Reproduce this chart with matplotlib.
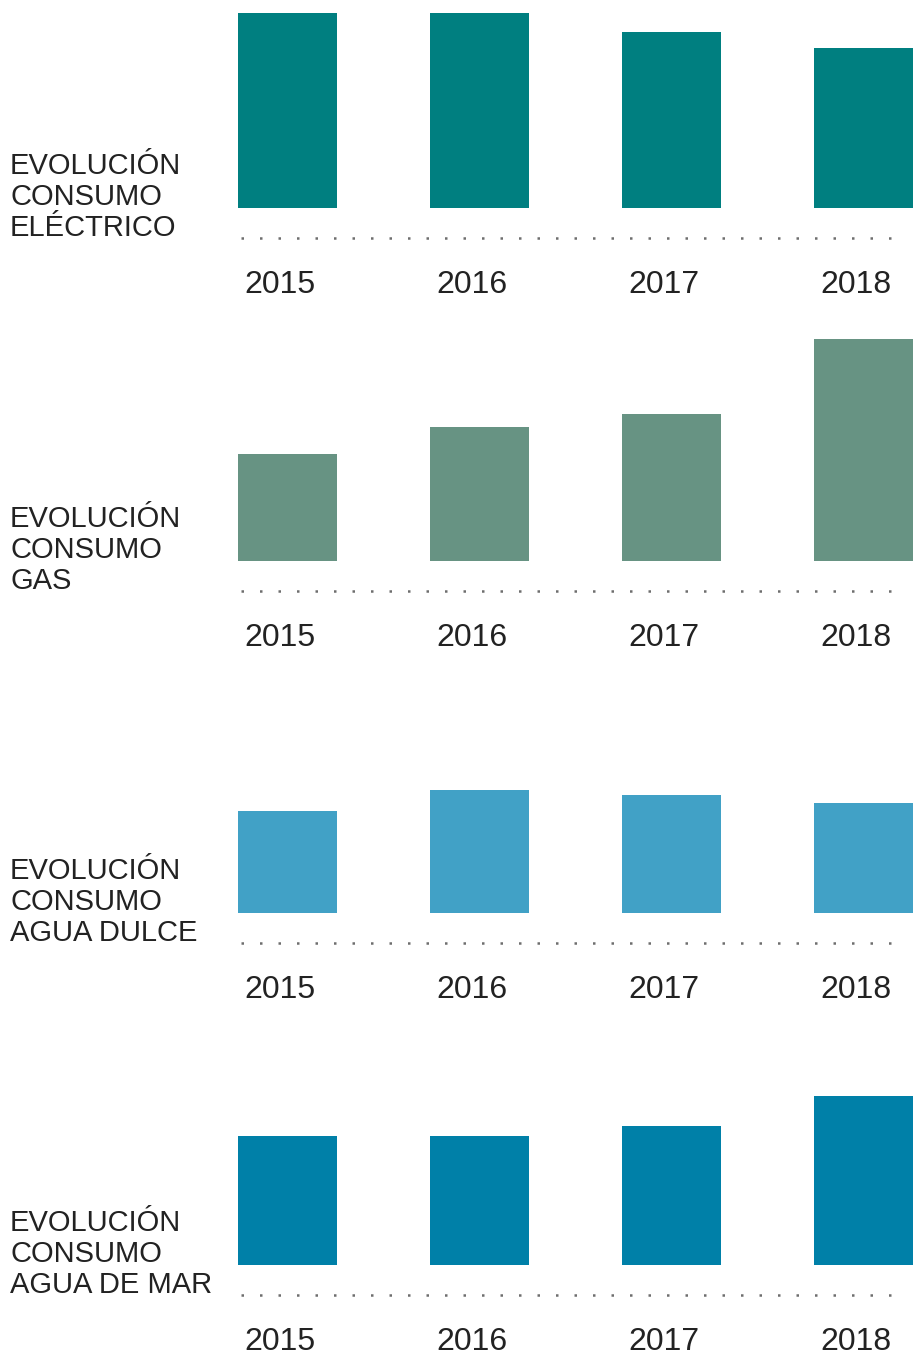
import matplotlib.pyplot as plt
import numpy as np

W, H = 913, 1354

years = ["2015", "2016", "2017", "2018"]
titles = ["EVOLUCIÓN\nCONSUMO\nELÉCTRICO",
          "EVOLUCIÓN\nCONSUMO\nGAS",
          "EVOLUCIÓN\nCONSUMO\nAGUA DULCE",
          "EVOLUCIÓN\nCONSUMO\nAGUA DE MAR"]
electrico = [195, 195, 176, 160]
gas = [107, 134, 147, 222]
agua_dulce = [102, 123, 118, 110]
agua_mar = [129, 129, 139, 169]
colors = ["#007f80", "#679383", "#41a1c6", "#0080a8"]

series = [electrico, gas, agua_dulce, agua_mar]
baselines = [208, 561, 913, 1265]  # px from top

plt.rcParams["font.family"] = ["Liberation Sans", "DejaVu Sans"]
fig = plt.figure(figsize=(W / 100, H / 100), dpi=100)

left_px = 191.5
unit = 192.0
ylo, yhi = -120, 232
x = np.arange(len(years))

for vals, title, col, base in zip(series, titles, colors, baselines):
    bottom = 1 - (base - ylo) / H
    height = (yhi - ylo) / H
    ax = fig.add_axes([left_px / W, bottom, (W - left_px) / W, height])
    ax.set_xlim(-0.5, (W - left_px) / unit - 0.5)
    ax.set_ylim(ylo, yhi)
    ax.axis("off")

    ax.bar(x, vals, width=99 / unit, color=col)
    ax.plot([-0.24, 3.216], [-30, -30], color="#6e6e6e", lw=1.8,
            linestyle=(0, (1, 6.4)), solid_capstyle="butt")
    for i, yr in enumerate(years):
        ax.text(i - 0.04, -85, yr, ha="center", va="baseline",
                fontsize=23, color="#222222")

    fig.text(10 / W, 1 - (base + 28) / H, title, ha="left", va="baseline",
             fontsize=21, color="#222222", linespacing=1.14)

fig.savefig("out.png", dpi=100)
